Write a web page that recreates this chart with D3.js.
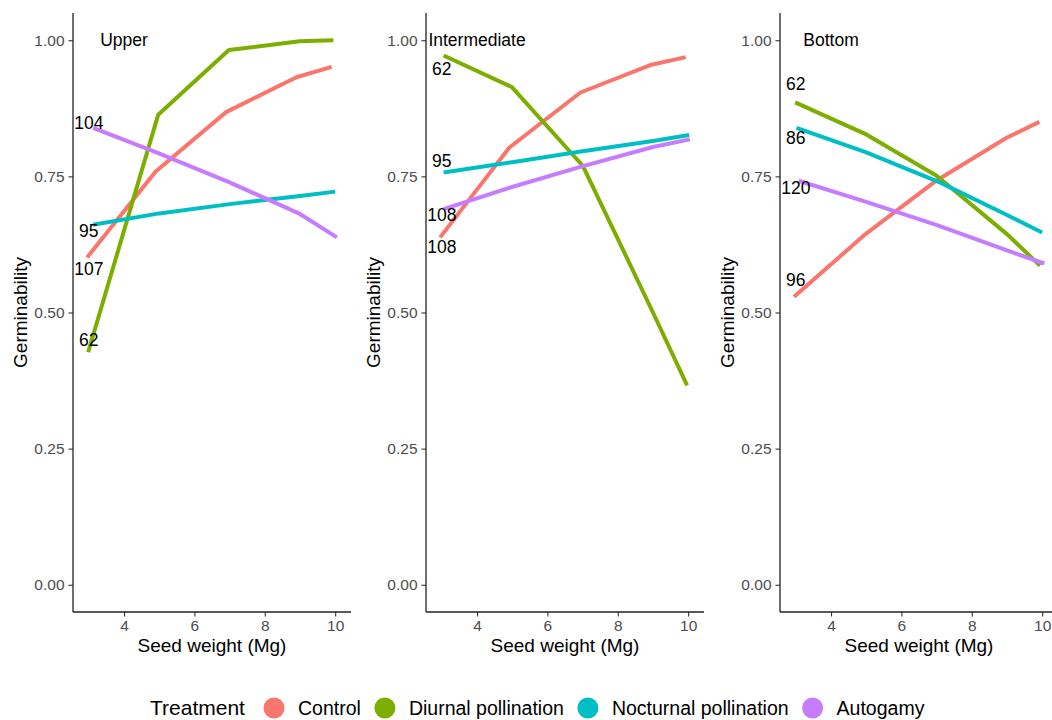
<!DOCTYPE html>
<html>
<head>
<meta charset="utf-8">
<script src="https://cdn.jsdelivr.net/npm/d3@7"></script>
<style>
  html, body { margin: 0; padding: 0; background: #fff; }
  svg { display: block; font-family: "Liberation Sans", Arial, Helvetica, sans-serif; }
</style>
</head>
<body>
<svg id="chart" width="1052" height="720"></svg>
<script>
// Treatments, in legend order, and their colours
const treatments = ["Control", "Diurnal pollination", "Nocturnal pollination", "Autogamy"];
const colors = ["#F8766D", "#7CAE00", "#00BFC4", "#C77CFF"];

// Canopy positions (one panel each)
const positions = ["Upper", "Intermediate", "Bottom"];

// Fitted germinability curves: seed weight (x) and germinability (y) per panel and treatment
const upperX = [
  [2.95, 4.9, 6.9, 8.9, 9.9],
  [2.98, 4.97, 6.98, 8.99, 9.95],
  [3.12, 5.0, 7.0, 9.0, 10.0],
  [3.12, 4.92, 7.0, 9.0, 10.05]
];
const upperY = [
  [0.601, 0.759, 0.868, 0.932, 0.951],
  [0.427, 0.863, 0.982, 0.998, 1.0],
  [0.661, 0.682, 0.699, 0.714, 0.722],
  [0.839, 0.794, 0.739, 0.681, 0.638]
];
const intermediateX = [
  [2.95, 4.92, 6.94, 8.96, 9.93],
  [3.05, 4.99, 7.01, 9.0, 9.97],
  [3.05, 5.0, 7.0, 9.0, 10.03],
  [3.05, 4.97, 6.96, 9.0, 10.05]
];
const intermediateY = [
  [0.638, 0.803, 0.904, 0.955, 0.969],
  [0.972, 0.914, 0.769, 0.50, 0.366],
  [0.757, 0.776, 0.796, 0.815, 0.826],
  [0.690, 0.730, 0.768, 0.804, 0.818]
];
const bottomX = [
  [2.95, 4.98, 6.99, 8.99, 9.92],
  [2.98, 5.0, 7.0, 9.0, 9.94],
  [3.02, 5.0, 7.09, 9.0, 10.0],
  [3.08, 5.0, 6.99, 9.0, 10.06]
];
const bottomY = [
  [0.529, 0.644, 0.742, 0.821, 0.850],
  [0.886, 0.827, 0.751, 0.644, 0.586],
  [0.839, 0.794, 0.739, 0.679, 0.647],
  [0.742, 0.703, 0.661, 0.614, 0.590]
];

// Sample sizes printed next to each curve, with the germinability level they sit at (x = 3)
const upperN = ["107", "62", "95", "104"];
const upperNY = [0.581, 0.449, 0.650, 0.848];
const intermediateN = ["108", "62", "95", "108"];
const intermediateNY = [0.620, 0.948, 0.778, 0.679];
const bottomN = ["96", "62", "86", "120"];
const bottomNY = [0.559, 0.919, 0.820, 0.728];

// Axis ticks
const xTicks = [4, 6, 8, 10];
const yTicks = [0, 0.25, 0.5, 0.75, 1];

const panels = [
  { title: positions[0], xs: upperX, ys: upperY, n: upperN, ny: upperNY },
  { title: positions[1], xs: intermediateX, ys: intermediateY, n: intermediateN, ny: intermediateNY },
  { title: positions[2], xs: bottomX, ys: bottomY, n: bottomN, ny: bottomNY }
];

const svg = d3.select("#chart");
const panelLeft = [73, 426, 780];
const panelW = 278;
const plotTop = 13, plotBottom = 612;

const y = d3.scaleLinear().domain([-0.05, 1.05]).range([plotBottom, plotTop]);

panels.forEach((p, pi) => {
  const x0 = panelLeft[pi];
  const x = d3.scaleLinear().domain([2.55, 10.45]).range([x0, x0 + panelW]);
  const g = svg.append("g");

  // curves
  const line = d3.line().x(d => x(d[0])).y(d => y(d[1]));
  treatments.forEach((t, ti) => {
    const pts = p.xs[ti].map((xv, k) => [xv, p.ys[ti][k]]);
    g.append("path")
      .attr("d", line(pts))
      .attr("fill", "none")
      .attr("stroke", colors[ti])
      .attr("stroke-width", 4)
      .attr("stroke-linejoin", "round");
  });

  // sample-size labels
  treatments.forEach((t, ti) => {
    g.append("text")
      .attr("x", x(3))
      .attr("y", y(p.ny[ti]))
      .attr("text-anchor", "middle")
      .attr("dy", "0.35em")
      .attr("font-size", 17.5)
      .attr("fill", "#000")
      .text(p.n[ti]);
  });

  // panel title
  g.append("text")
    .attr("x", x(4))
    .attr("y", y(1))
    .attr("text-anchor", "middle")
    .attr("dy", "0.35em")
    .attr("font-size", 17.5)
    .attr("fill", "#000")
    .text(p.title);

  // axes
  const xAxis = d3.axisBottom(x).tickValues(xTicks).tickSize(4.5).tickPadding(3).tickFormat(d3.format("d"));
  const yAxis = d3.axisLeft(y).tickValues(yTicks).tickSize(4.5).tickPadding(4).tickFormat(d3.format(".2f"));

  const gx = g.append("g").attr("transform", `translate(0,${plotBottom})`).call(xAxis);
  const gy = g.append("g").attr("transform", `translate(${x0},0)`).call(yAxis);
  [gx, gy].forEach(a => {
    a.select(".domain").remove();
    a.selectAll(".tick line").attr("stroke", "#333").attr("stroke-width", 1.1);
    a.selectAll(".tick text").attr("fill", "#4D4D4D").attr("font-size", 15.5)
      .attr("font-family", "'Liberation Sans', Arial, sans-serif");
  });
  // axis lines spanning the full panel
  g.append("line").attr("x1", x0).attr("x2", x0).attr("y1", plotTop).attr("y2", plotBottom)
    .attr("stroke", "#222").attr("stroke-width", 1.3);
  g.append("line").attr("x1", x0).attr("x2", x0 + panelW).attr("y1", plotBottom).attr("y2", plotBottom)
    .attr("stroke", "#222").attr("stroke-width", 1.3);

  // axis titles
  g.append("text")
    .attr("x", x0 + panelW / 2)
    .attr("y", 645)
    .attr("dy", "0.35em")
    .attr("text-anchor", "middle")
    .attr("font-size", 19)
    .attr("fill", "#000")
    .text("Seed weight (Mg)");
  g.append("text")
    .attr("transform", `translate(${x0 - 53},${(plotTop + plotBottom) / 2}) rotate(-90)`)
    .attr("dy", "0.35em")
    .attr("text-anchor", "middle")
    .attr("font-size", 19)
    .attr("fill", "#000")
    .text("Germinability");
});

// legend
const legend = svg.append("g").attr("transform", "translate(0,708)");
legend.append("text")
  .attr("x", 150).attr("y", 0).attr("dy", "0.35em")
  .attr("font-size", 21).attr("fill", "#000")
  .text("Treatment");
let lx = 274;
treatments.forEach((t, ti) => {
  legend.append("circle").attr("cx", lx).attr("cy", 0).attr("r", 10.5).attr("fill", colors[ti]);
  const txt = legend.append("text")
    .attr("x", lx + 24).attr("y", 0).attr("dy", "0.35em")
    .attr("font-size", 19.5).attr("fill", "#000")
    .text(t);
  lx = lx + 24 + txt.node().getComputedTextLength() + 24;
});
</script>
</body>
</html>
